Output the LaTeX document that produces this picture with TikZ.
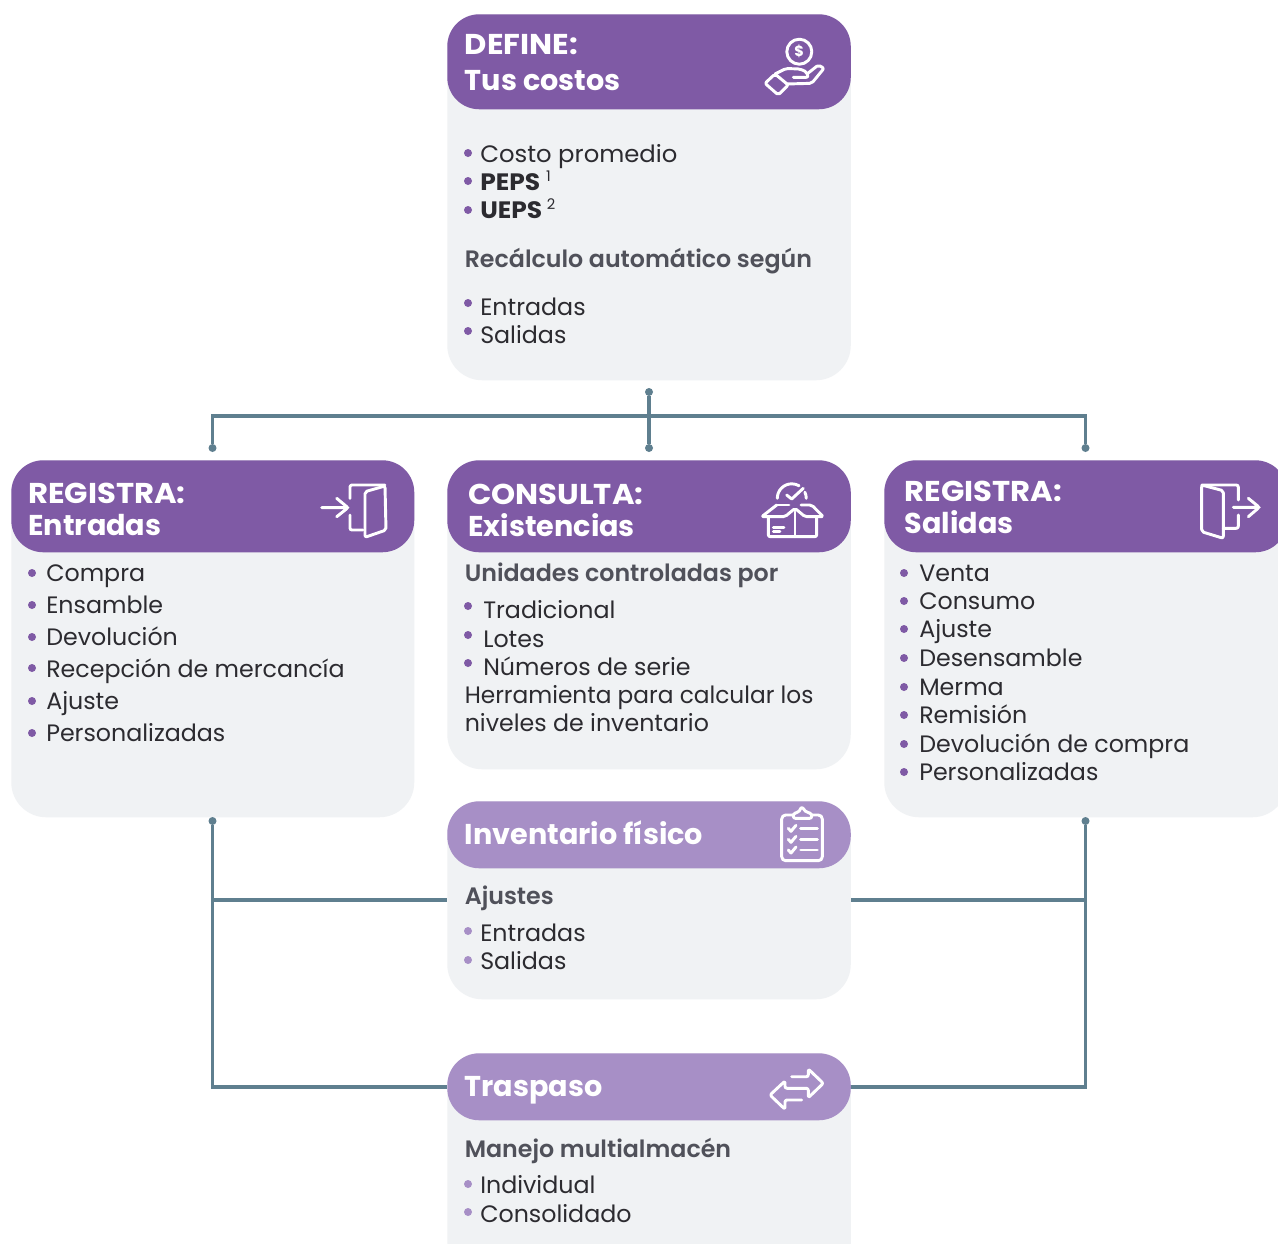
\documentclass[tikz,border=0pt]{standalone}
\usepackage{fontspec}
\setmainfont{Poppins}
\newfontfamily\semifont{Poppins SemiBold}
\definecolor{headdark}{HTML}{7F5AA5}
\definecolor{headlight}{HTML}{A78FC6}
\definecolor{cardbg}{HTML}{F0F2F4}
\definecolor{linkc}{HTML}{5F7F8F}
\definecolor{bodyc}{HTML}{2C2B30}
\definecolor{subc}{HTML}{50515A}
\tikzset{
  sz/.style n args={2}{minimum width=#1*0.75pt,minimum height=#2*0.75pt},
  cardbody/.style={fill=cardbg,draw=none,rounded corners=26.25pt,inner sep=0pt,anchor=north west},
  cardhead/.style={draw=none,rounded corners=24pt,inner sep=0pt,anchor=north west},
  headtext/.style={anchor=base west,inner sep=0pt,text=white,font=\fontsize{21.5}{24}\selectfont\bfseries},
  item/.style={anchor=base west,inner sep=0pt,text=bodyc,font=\fontsize{17.8}{20}\selectfont},
  subhead/.style={anchor=base west,inner sep=0pt,text=subc,font=\fontsize{17.8}{20}\selectfont\semifont},
  bul/.style={circle,inner sep=0pt,minimum size=6pt,fill=headdark},
  bull/.style={circle,inner sep=0pt,minimum size=6pt,fill=headlight},
  dot/.style={circle,inner sep=0pt,minimum size=6pt,fill=linkc},
  link/.style={draw=linkc,line width=2.5pt},
  ico/.style={draw=white,line width=2.2pt,line join=round,line cap=round,rounded corners=1.5pt},
}
\newcommand{\supn}[2]{\hspace{#2}{\fontsize{11}{11}\selectfont\mdseries\raisebox{6.5pt}{#1}}}
\newcommand{\capw}[1]{\scalebox{1.07}[1]{#1}}
\begin{document}
\begin{tikzpicture}[x=0.75pt,y=-0.75pt]
\clip (0,0) rectangle (1278,1243);
\fill[white] (0,0) rectangle (1278,1243);
% cards
\node[cardbody,sz={403.5}{366}] (defB) at (447,14) {};
\node[cardhead,fill=headdark,sz={403.5}{95}] (defH) at (447,14) {};
\node[cardbody,sz={403}{357}] (entB) at (11,460) {};
\node[cardhead,fill=headdark,sz={403}{92}] (entH) at (11,460) {};
\node[cardbody,sz={403.5}{309}] (conB) at (447,460) {};
\node[cardhead,fill=headdark,sz={403.5}{92}] (conH) at (447,460) {};
\node[cardbody,sz={403}{357}] (salB) at (884,460) {};
\node[cardhead,fill=headdark,sz={403}{92}] (salH) at (884,460) {};
\node[cardbody,sz={403.5}{198}] (invB) at (447,801) {};
\node[cardhead,fill=headlight,sz={403.5}{67}] (invH) at (447,801) {};
\node[cardbody,sz={403.5}{240}] (traB) at (447,1053) {};
\node[cardhead,fill=headlight,sz={403.5}{67}] (traH) at (447,1053) {};
% connectors
\node[dot] (dTop) at (649,392) {};
\node[dot] (dEnt) at (212.5,448) {};
\node[dot] (dCon) at (649,448) {};
\node[dot] (dSal) at (1085.5,448) {};
\node[dot] (dEntB) at (212.5,821) {};
\node[dot] (dSalB) at (1085.5,821) {};
\coordinate (busY) at (649,416);
\coordinate (invY) at (649,900);
\coordinate (traY) at (649,1087);
\draw[link] (dTop) -- (dCon);
\draw[link] (dEnt) |- (busY) -| (dSal);
\draw[link] (dEntB) -- (dEntB |- traY) -- (traY -| traB.west);
\draw[link] (dSalB) -- (dSalB |- traY) -- (traY -| traB.east);
\draw[link] (dEntB |- invY) -- (invY -| invB.west);
\draw[link] (dSalB |- invY) -- (invY -| invB.east);
% DEFINE
\node[headtext] (t1) at (464.5,54) {\capw{DEFINE:}};
\node[headtext] (t2) at (464.5,90) {Tus costos};
\node[bul] (b1) at (468,153) {};
\node[bul] (b2) at (468,181) {};
\node[bul] (b3) at (468,210) {};
\node[item] (t3) at (480,162) {\scalebox{1.025}[1]{Costo promedio}};
\node[item] (t4) at (480,190) {\bfseries \scalebox{1.05}[1]{PEPS}\supn{1}{4.5pt}};
\node[item] (t5) at (480,218) {\bfseries \scalebox{1.05}[1]{UEPS}\supn{2}{3.5pt}};
\node[subhead] (t6) at (464.5,267) {Recálculo automático según};
\node[bul] (b4) at (468,303) {};
\node[bul] (b5) at (468,331) {};
\node[item] (t7) at (480,315) {Entradas};
\node[item] (t8) at (480,343) {Salidas};
% ENTRADAS
\node[headtext] (e1) at (28,503) {\capw{REGISTRA:}};
\node[headtext] (e2) at (28,535) {Entradas};
\foreach \n/\yb/\yt/\s in {1/573/581/Compra,2/605/613/Ensamble,3/637/645/Devolución,4/668/677/Recepción de mercancía,5/701/709/Ajuste,6/733/741/Personalizadas}{
  \node[bul] (eb\n) at (32,\yb) {};
  \node[item] (ei\n) at (46,\yt) {\s};
}
% CONSULTA
\node[headtext] (c1) at (468,504) {\capw{CONSULTA:}};
\node[headtext] (c2) at (468,536) {Existencias};
\node[subhead] (c3) at (464.5,581) {Unidades controladas por};
\foreach \n/\yb/\yt/\s in {1/606/618/Tradicional,2/635/647/Lotes,3/663/675/Números de serie}{
  \node[bul] (cb\n) at (468,\yb) {};
  \node[item] (ci\n) at (483,\yt) {\s};
}
\node[item] (c4) at (464.5,703) {\scalebox{0.98}[1]{Herramienta para calcular los}};
\node[item] (c5) at (464.5,731) {niveles de inventario};
% SALIDAS
\node[headtext] (s1) at (904.5,501) {\capw{REGISTRA:}};
\node[headtext] (s2) at (904.5,533) {Salidas};
\foreach \n/\yb/\yt/\s in {1/573/581/Venta,2/601/609/Consumo,3/629/637/Ajuste,4/658/666/Desensamble,5/687/695/Merma,6/715/723/Remisión,7/744/752/Devolución de compra,8/772/780/Personalizadas}{
  \node[bul] (sb\n) at (904,\yb) {};
  \node[item] (si\n) at (919,\yt) {\s};
}
% INVENTARIO
\node[headtext] (i1) at (464.5,844) {Inventario físico};
\node[subhead] (i2) at (464.5,904) {Ajustes};
\node[bull] (ib1) at (468,931) {};
\node[bull] (ib2) at (468,960) {};
\node[item] (i3) at (480,941) {Entradas};
\node[item] (i4) at (480,969) {Salidas};
% TRASPASO
\node[headtext] (r1) at (464.5,1096) {Traspaso};
\node[subhead] (r2) at (464.5,1157) {Manejo multialmacén};
\node[bull] (rb1) at (468,1184) {};
\node[bull] (rb2) at (468,1212) {};
\node[item] (r3) at (480,1193) {Individual};
\node[item] (r4) at (480,1222) {Consolidado};
% icon: hand and coin
\draw[ico] (799.3,51.7) circle (12.5);
\node[inner sep=0pt,text=white,font=\fontsize{11}{11}\selectfont\bfseries] (dollar) at (799.3,51.7) {\$};
\draw[ico] (775,74) -- (765,83.3) -- (778.3,95) -- (788.3,85) -- cycle;
\draw[ico] (775,74) -- (786,68.5) -- (800,69) -- (806.7,72) -- (808.3,77.3) -- (793.3,77.3);
\draw[ico] (807,74) -- (818.3,65) -- (824,68.3) -- (811.7,83.3) -- (786.7,84);
% icon: door in
\draw[ico] (321.7,507.7) -- (348,507.7) (336.7,498.3) -- (348,507.7) -- (336.7,516.7);
\draw[ico] (350,498.3) -- (350,485) -- (385,485);
\draw[ico] (350,515) -- (350,530) -- (363,530);
\draw[ico] (365,491.7) -- (385,486) -- (386,530) -- (365,537.3) -- cycle;
% icon: door out
\draw[ico] (1201.7,485) -- (1223.3,490.7) -- (1223.3,538.3) -- (1201.7,531.7) -- cycle;
\draw[ico] (1201.7,485) -- (1238.3,485) -- (1238.3,500);
\draw[ico] (1238.3,515) -- (1238.3,528.3) -- (1223.3,528.3);
\draw[ico] (1233.3,507.3) -- (1259.3,507.3) (1248.3,498.3) -- (1259.3,507.3) -- (1248.3,516.7);
% icon: box
\draw[ico,rounded corners=0pt] (777.3,498.3) arc[start angle=180,end angle=300,radius=14.5];
\draw[ico,rounded corners=0pt] (804.9,492.2) arc[start angle=335,end angle=360,radius=14.5];
\draw[ico,rounded corners=0pt] (786.7,495) -- (791.7,499) -- (803.3,488.3);
\draw[ico] (776.7,505) -- (761.7,516.7) -- (785,516.7) -- (795,508.3) -- (805,516.7) -- (823.3,516.7) -- (811.7,505) -- (801,505);
\draw[ico] (776.7,505) -- (789,505);
\draw[ico] (768.3,516.7) -- (768.3,536.7) -- (816.7,536.7) -- (816.7,516.7);
\draw[ico] (795,511.7) -- (795,536.7);
\draw[ico] (773.3,527.3) -- (784,527.3) (773.3,531.7) -- (780,531.7);
% icon: clipboard
\draw[ico,rounded corners=3pt] (793.3,815) -- (781.7,815) -- (781.7,860.7) -- (822.3,860.7) -- (822.3,815) -- (811.7,815);
\draw[ico] (793.3,818.3) -- (793.3,813) -- (798.3,812.7) -- (801.7,806.7) -- (806.7,812.7) -- (811.7,813) -- (811.7,818.3) -- cycle;
\foreach \y in {828.3,839.3,850}{
  \draw[ico,rounded corners=0pt] (788.3,\y) -- (791,\y+3) -- (796,\y-3);
  \draw[ico] (800.7,\y) -- (817.3,\y);
}
% icon: transfer arrows
\draw[ico] (791.7,1076.7) -- (808.3,1076.7) -- (808.3,1069) -- (823.3,1083.3) -- (808.3,1097.7) -- (808.3,1088.3) -- (785,1088.3) -- (785,1081) -- (770,1095) -- (785,1109.3) -- (785,1100) -- (801.7,1100);
\end{tikzpicture}
\end{document}
